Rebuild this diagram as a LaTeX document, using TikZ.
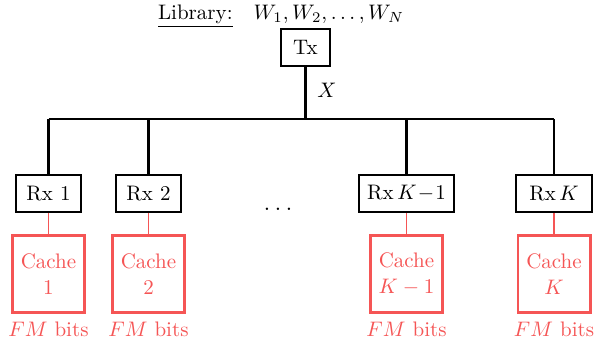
\documentclass[tikz,border=0pt]{standalone}
\definecolor{cachered}{RGB}{245,85,85}
\begin{document}
\begin{tikzpicture}[x=0.476pt,y=-0.476pt,
  rxbox/.style={draw,line width=1pt,minimum height=17.6pt,inner xsep=4pt,inner ysep=2pt},
  cachebox/.style={draw=cachered,text=cachered,line width=1.4pt,minimum width=34.3pt,minimum height=37pt,align=center,inner sep=1pt},
  bits/.style={text=cachered},
  bus/.style={line width=1.4pt},
  link/.style={draw=cachered,line width=0.8pt}]
\useasboundingbox (0,0) rectangle (598,346);
\node (lib) at (281,16) {\underline{Library:}\quad $W_1,W_2,\ldots,W_N$};
\node[rxbox,minimum width=23.3pt] (tx) at (305.5,47.5) {Tx};
\coordinate (bt) at (305.5,119);
\coordinate (b1) at (48.5,119);
\coordinate (b2) at (148.5,119);
\coordinate (b3) at (406.5,119);
\coordinate (b4) at (554,119);
\node (xl) at (327,90) {$X$};
\node[rxbox,minimum width=31pt] (rx1) at (48.5,193.5) {Rx 1};
\node[rxbox,minimum width=31pt] (rx2) at (148.5,193.5) {Rx 2};
\node[rxbox,minimum width=37.6pt] (rx3) at (406.5,193.5) {Rx\,$K\!-\!1$};
\node[rxbox,minimum width=36pt] (rx4) at (554,193.5) {Rx\,$K$};
\node[anchor=base,font=\large] (dots) at (278,210) {$\ldots$};
\node[cachebox] (c1) at (48.5,274) {Cache\\1};
\node[cachebox] (c2) at (148.5,274) {Cache\\2};
\node[cachebox] (c3) at (406.5,274) {Cache\\$K-1$};
\node[cachebox] (c4) at (554,274) {Cache\\$K$};
\node[bits] (f1) at (48.5,329) {$FM$ bits};
\node[bits] (f2) at (148.5,329) {$FM$ bits};
\node[bits] (f3) at (406.5,329) {$FM$ bits};
\node[bits] (f4) at (554,329) {$FM$ bits};
\draw[bus] (b1) -- (b4);
\draw[bus] (tx) -- (bt);
\draw[bus] (b1) -- (rx1);
\draw[bus] (b2) -- (rx2);
\draw[bus] (b3) -- (rx3);
\draw[bus] (b4) -- (rx4);
\draw[link] (rx1) -- (c1);
\draw[link] (rx2) -- (c2);
\draw[link] (rx3) -- (c3);
\draw[link] (rx4) -- (c4);
\end{tikzpicture}
\end{document}
